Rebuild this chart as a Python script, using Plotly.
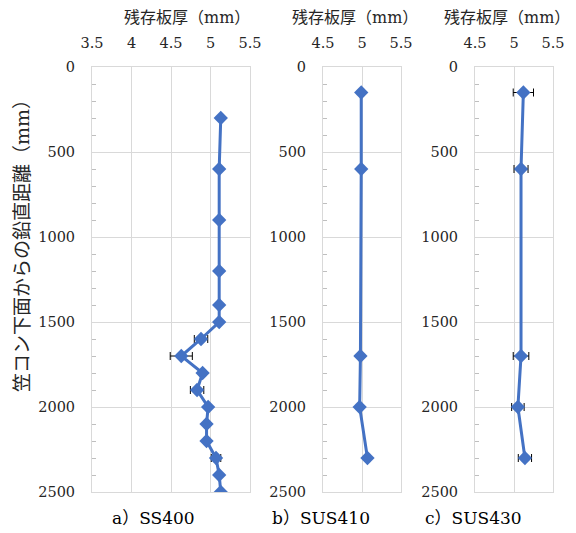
import plotly.graph_objects as go

# ---- data ----
a_depth = [300, 600, 900, 1200, 1400, 1500, 1600, 1700, 1800, 1900, 2000, 2100, 2200, 2300, 2400, 2500]
a_thick = [5.13, 5.11, 5.11, 5.11, 5.11, 5.11, 4.88, 4.63, 4.90, 4.83, 4.97, 4.95, 4.95, 5.07, 5.11, 5.13]
a_err = [0, 0, 0, 0, 0, 0, 0.085, 0.14, 0.03, 0.085, 0, 0, 0, 0.06, 0, 0]

b_depth = [150, 600, 1700, 2000, 2300]
b_thick = [4.99, 4.99, 4.98, 4.97, 5.07]

c_depth = [150, 600, 1700, 2000, 2300]
c_thick = [5.12, 5.09, 5.09, 5.05, 5.14]
c_err = [0.13, 0.09, 0.10, 0.08, 0.085]

panel_labels = ["a）SS400", "b）SUS410", "c）SUS430"]
x_title = "残存板厚（mm）"
y_title = "笠コン下面からの鉛直距離（mm）"

W, H = 576, 533
FONT = "DejaVu Serif, Noto Sans CJK JP"
BLUE = "#4472C4"
GRID = "#d9d9d9"
TXT = "#262626"


def px(x):
    return x / W


def py(y):
    return 1 - y / H


fig = go.Figure()

marker = dict(symbol="diamond", size=11, color=BLUE)
line = dict(color=BLUE, width=3)
err_style = dict(type="data", color="black", thickness=1, width=4)

fig.add_trace(go.Scatter(x=a_thick, y=a_depth, mode="lines+markers", marker=marker, line=line,
                         error_x=dict(array=a_err, **err_style), xaxis="x", yaxis="y", showlegend=False))
fig.add_trace(go.Scatter(x=b_thick, y=b_depth, mode="lines+markers", marker=marker, line=line,
                         xaxis="x2", yaxis="y2", showlegend=False))
fig.add_trace(go.Scatter(x=c_thick, y=c_depth, mode="lines+markers", marker=marker, line=line,
                         error_x=dict(array=c_err, **err_style), xaxis="x3", yaxis="y3", showlegend=False))

plot_top, plot_bot = 67, 492
xdoms = [(92, 250), (323, 401), (475, 553)]
xranges = [[3.5, 5.5], [4.5, 5.5], [4.5, 5.5]]

layout = dict(
    width=W, height=H,
    margin=dict(l=0, r=0, t=0, b=0, autoexpand=False),
    paper_bgcolor="white", plot_bgcolor="white",
    font=dict(family=FONT, size=14, color=TXT),
)

for i in range(3):
    sfx = "" if i == 0 else str(i + 1)
    layout["xaxis" + sfx] = dict(
        domain=[px(xdoms[i][0]), px(xdoms[i][1])],
        range=xranges[i], dtick=0.5, side="top",
        anchor="y" + sfx,
        showgrid=True, gridcolor=GRID, gridwidth=1,
        showline=True, linecolor=GRID, linewidth=1, mirror=True,
        ticks="", ticklabelstandoff=12, zeroline=False,
        tickfont=dict(family=FONT, size=14.5, color=TXT),
    )
    layout["yaxis" + sfx] = dict(
        domain=[py(plot_bot), py(plot_top)],
        range=[2500, 0], dtick=500, tickformat="d",
        anchor="x" + sfx,
        showgrid=True, gridcolor=GRID, gridwidth=1,
        showline=True, linecolor=GRID, linewidth=1, mirror=True,
        ticks="", ticklabelstandoff=13, zeroline=False,
        tickfont=dict(family=FONT, size=14.5, color=TXT),
        minor=dict(dtick=100, ticks="inside", ticklen=4, tickcolor="#bfbfbf", showgrid=False),
    )

fig.update_layout(**layout)

annots = []
title_left = [122, 290, 442]
for xl in title_left:
    annots.append(dict(text=x_title, x=px(xl), y=py(18), xref="paper", yref="paper",
                       xanchor="left", yanchor="middle", showarrow=False,
                       font=dict(family=FONT, size=16, color=TXT)))
label_left = [110, 270, 423]
for xl, t in zip(label_left, panel_labels):
    annots.append(dict(text=t, x=px(xl), y=py(518), xref="paper", yref="paper",
                       xanchor="left", yanchor="middle", showarrow=False,
                       font=dict(family=FONT, size=17, color="#000000")))
annots.append(dict(text=y_title, x=px(22), y=py(241), xref="paper", yref="paper",
                   xanchor="center", yanchor="middle", textangle=-90, showarrow=False,
                   font=dict(family=FONT, size=19, color=TXT)))
fig.update_layout(annotations=annots)

fig.write_html("out.html", post_script="document.body.style.margin='0';",
               config={"displayModeBar": False})
